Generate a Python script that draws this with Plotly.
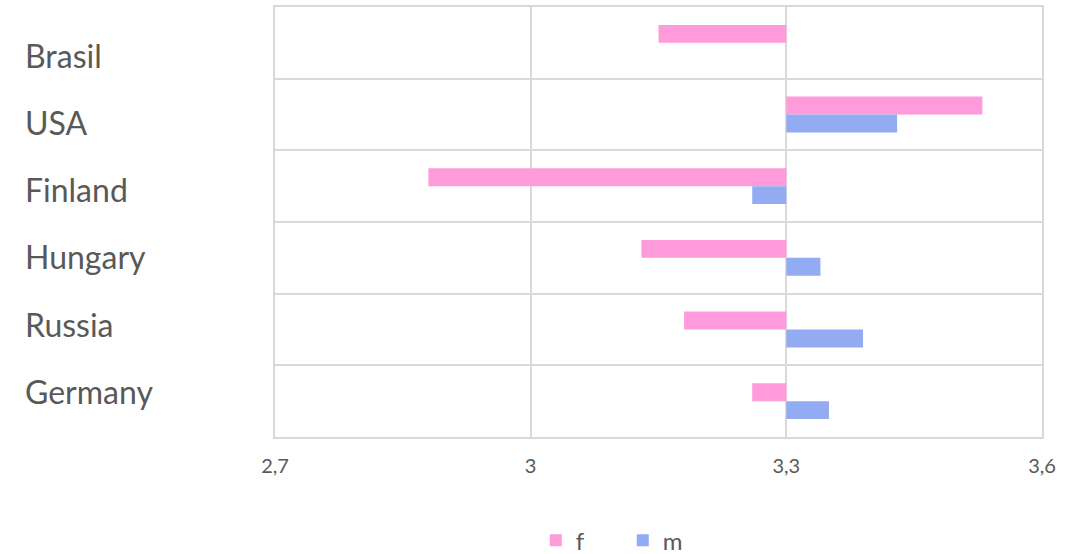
import plotly.graph_objects as go

countries = ["Brasil", "USA", "Finland", "Hungary", "Russia", "Germany"]
f_values = [3.15, 3.53, 2.88, 3.13, 3.18, 3.26]
m_values = [None, 3.43, 3.26, 3.34, 3.39, 3.35]
base_value = 3.3
x_ticks = [2.7, 3.0, 3.3, 3.6]
x_ticktext = ["2,7", "3", "3,3", "3,6"]

FONT = "Lato"
TXT = "#595959"
GRID = "#d9d9d9"

def rel(vals):
    return [None if v is None else v - base_value for v in vals]

fig = go.Figure()
fig.add_trace(go.Bar(y=countries, x=rel(f_values), base=base_value, orientation="h",
                     name="f", marker=dict(color="#FF9ADB", line=dict(width=0))))
fig.add_trace(go.Bar(y=countries, x=rel(m_values), base=base_value, orientation="h",
                     name="m", marker=dict(color="#92ABF2", line=dict(width=0))))

annotations = []
for i, c in enumerate(countries):
    annotations.append(dict(text=c, x=0, xref="paper", xanchor="left", xshift=-252,
                            y=c, yref="y", yanchor="middle", yshift=-(12.5 - 4.5 * i),
                            showarrow=False, font=dict(family=FONT, size=32, color=TXT)))

fig.update_layout(
    width=1086, height=554,
    margin=dict(l=275, r=44, t=7, b=117, autoexpand=False),
    paper_bgcolor="white", plot_bgcolor="white",
    barmode="group", bargap=0.5, bargroupgap=0,
    separators=", ",
    font=dict(family=FONT, color=TXT),
    annotations=annotations,
    showlegend=True,
    legend=dict(orientation="h", x=0.34, xanchor="left",
                yref="container", y=0.024, yanchor="middle",
                font=dict(family=FONT, size=24, color=TXT), entrywidth=42,
                traceorder="normal"),
    xaxis=dict(range=[2.7, 3.6], tickvals=x_ticks, ticktext=x_ticktext,
               showgrid=True, gridcolor=GRID, gridwidth=2, zeroline=False,
               showline=True, mirror=True, linecolor=GRID, linewidth=2,
               automargin=False,
               tickfont=dict(family=FONT, size=20, color=TXT),
               ticks="", ticklabelstandoff=10),
    yaxis=dict(autorange="reversed", type="category", tickson="boundaries",
               showgrid=True, gridcolor=GRID, gridwidth=2, showticklabels=False,
               showline=True, mirror=True, linecolor=GRID, linewidth=2,
               automargin=False, ticks=""),
)

fig.write_html("out.html")
